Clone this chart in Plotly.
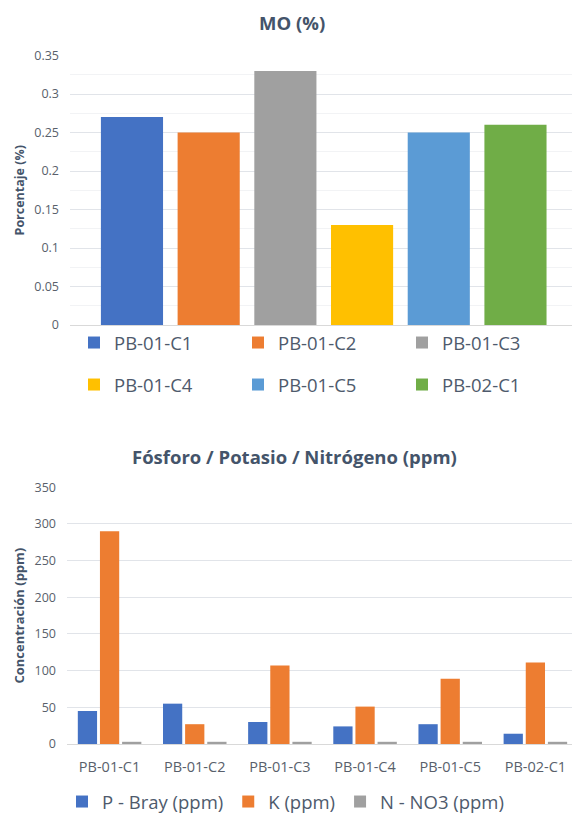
import plotly.graph_objects as go

W, H = 572, 814

# Sample identifiers shared by both charts
samples = ["PB-01-C1", "PB-01-C2", "PB-01-C3", "PB-01-C4", "PB-01-C5", "PB-02-C1"]

# Organic matter (%) per sample
mo_pct = [0.27, 0.25, 0.33, 0.13, 0.25, 0.26]
mo_colors = ["#4472C4", "#ED7D31", "#A0A0A0", "#FFC000", "#5B9BD5", "#70AD47"]

# Nutrient concentrations (ppm) per sample
p_bray = [45, 55, 30, 24, 27, 14]
k_ppm = [290, 27, 107, 51, 89, 111]
n_no3 = [3, 3, 3, 3, 3, 3]
nutrient_names = ["P - Bray (ppm)", "K (ppm)", "N - NO3 (ppm)"]
nutrient_colors = ["#4472C4", "#ED7D31", "#A0A0A0"]

mo_ticks = [0, 0.05, 0.1, 0.15, 0.2, 0.25, 0.3, 0.35]
ppm_ticks = [0, 50, 100, 150, 200, 250, 300, 350]

FONT = "Open Sans"
TITLE_C = "#44546A"
TICK_C = "#595F6B"
GRID_C = "#E1E4E9"


def px(x):
    return x / W


def py(y):
    return 1 - y / H


fig = go.Figure()

# Top chart: one bar per sample, each with its own legend entry
for i, (s, v, c) in enumerate(zip(samples, mo_pct, mo_colors)):
    fig.add_trace(go.Bar(
        x=[s], y=[v], name=s, marker=dict(color=c, line=dict(width=0)),
        width=0.81, offset=-0.405, offsetgroup="mo",
        xaxis="x", yaxis="y",
        legend="legend" if i < 3 else "legend2",
        hoverinfo="x+y",
    ))

# Bottom chart: grouped nutrient bars
for name, vals, c in zip(nutrient_names, [p_bray, k_ppm, n_no3], nutrient_colors):
    fig.add_trace(go.Bar(
        x=samples, y=vals, name=name, marker=dict(color=c, line=dict(width=0)),
        xaxis="x2", yaxis="y2", legend="legend3",
    ))

legend_common = dict(
    orientation="h", xanchor="left", yanchor="middle",
    bgcolor="rgba(0,0,0,0)", borderwidth=0,
    font=dict(family=FONT, size=18.5, color="#4E5A6C"),
)

fig.update_layout(
    width=W, height=H,
    margin=dict(l=0, r=0, t=0, b=0, autoexpand=False),
    paper_bgcolor="white", plot_bgcolor="white",
    font=dict(family=FONT, color=TICK_C),
    barmode="group", bargap=0.22, bargroupgap=0.13,
    xaxis=dict(
        domain=[px(70), 1], anchor="y", type="category", automargin=False,
        range=[-0.808, 5.737], showticklabels=False, ticks="",
        showgrid=False, showline=True, linecolor="#D9D9D9", linewidth=1,
    ),
    yaxis=dict(
        domain=[py(325), py(55.5)], anchor="x", range=[0, 0.35], automargin=False,
        tickvals=mo_ticks, tickformat=".2~f", ticks="",
        ticklabelstandoff=10,
        tickfont=dict(size=12.5, color=TICK_C),
        showgrid=True, gridcolor=GRID_C, gridwidth=1, zeroline=False,
        minor=dict(dtick=0.025, showgrid=True, gridcolor="#F2F3F5", gridwidth=1),
        title=dict(text="<b>Porcentaje (%)</b>", standoff=6,
                   font=dict(size=12.5, color=TITLE_C)),
    ),
    xaxis2=dict(
        domain=[px(67), 1], anchor="y2", type="category", automargin=False,
        range=[-0.5, 5.43], ticks="", ticklabelstandoff=10,
        tickfont=dict(size=14.5, color=TICK_C),
        showgrid=False, showline=True, linecolor="#D9D9D9", linewidth=1,
    ),
    yaxis2=dict(
        domain=[py(744), py(487.3)], anchor="x2", range=[0, 350], automargin=False,
        tickvals=ppm_ticks, ticks="", ticklabelstandoff=10,
        tickfont=dict(size=12.5, color=TICK_C),
        showgrid=True, gridcolor=GRID_C, gridwidth=1, zeroline=False,
        title=dict(text="<b>Concentración (ppm)</b>", standoff=6,
                   font=dict(size=13, color=TITLE_C)),
    ),
    legend=dict(x=px(74), y=py(343), entrywidth=119, entrywidthmode="pixels",
                **legend_common),
    legend2=dict(x=px(74), y=py(385), entrywidth=119, entrywidthmode="pixels",
                 **legend_common),
    legend3=dict(x=px(62), y=py(802), **legend_common),
    annotations=[
        dict(text="<b>MO (%)</b>", x=px(292), y=py(23), xref="paper", yref="paper",
             xanchor="center", yanchor="middle", showarrow=False,
             font=dict(family=FONT, size=18.5, color=TITLE_C)),
        dict(text="<b>Fósforo / Potasio / Nitrógeno (ppm)</b>", x=px(294), y=py(456),
             xref="paper", yref="paper", xanchor="center", yanchor="middle",
             showarrow=False, font=dict(family=FONT, size=18.5, color=TITLE_C)),
    ],
)

fig.write_html("out.html")
